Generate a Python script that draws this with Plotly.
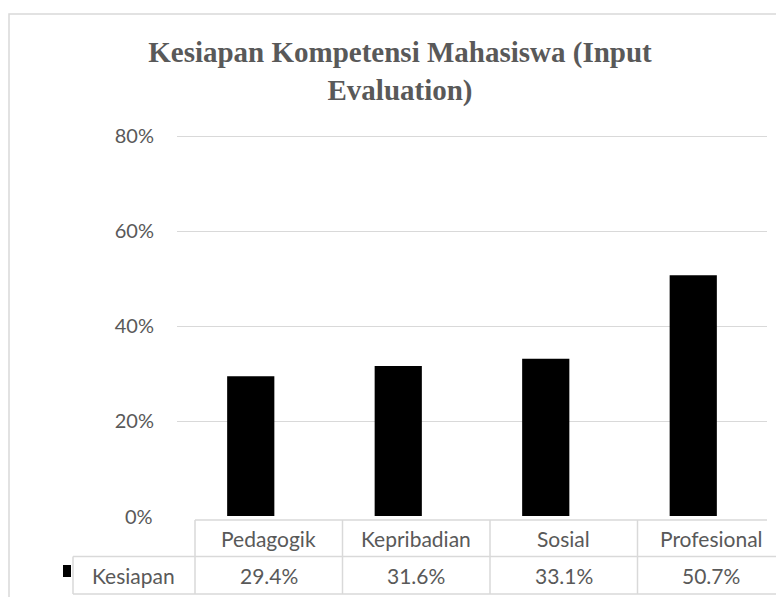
import plotly.graph_objects as go

categories = ["Pedagogik", "Kepribadian", "Sosial", "Profesional"]
series_name = "Kesiapan"
values = [0.294, 0.316, 0.331, 0.507]
value_labels = ["29.4%", "31.6%", "33.1%", "50.7%"]
y_ticks = [0.2, 0.4, 0.6, 0.8]
y_ticktext = ["20%", "40%", "60%", "80%"]
title_text = "Kesiapan Kompetensi Mahasiswa (Input<br>Evaluation)"

W, H = 784, 597
OFF = 8  # page body margin
# plot area in window pixels
PL, PR, PT, PB = 177, 767, 134, 516
Y_MAX = 0.8 * (PB - PT) / (PB - 136)
L, T = PL - OFF, PT - OFF
R, B = W - (PR - OFF), H - (PB - OFF)
pw, ph = PR - PL, PB - PT

def px(x):  # window pixel x -> paper
    return (x - PL) / pw

def py(y):  # window pixel y -> paper
    return (PB - y) / ph

grid = "#d9d9d9"
txt = "#595959"
font = "Lato"

fig = go.Figure()
fig.add_trace(go.Bar(x=list(range(len(categories))), y=values, name=series_name,
                     marker=dict(color="black", line=dict(width=0)), width=0.32,
                     showlegend=False))

fig.update_layout(
    width=W, height=H,
    margin=dict(l=L, r=R, t=T, b=B),
    paper_bgcolor="white", plot_bgcolor="white",
    title=dict(text=title_text, x=(400 - OFF) / W, xanchor="center", y=1 - (62 - OFF) / H,
               yanchor="top",
               font=dict(family="Liberation Serif", size=29, color=txt, weight="bold")),
    xaxis=dict(range=[-0.5, len(categories) - 0.5], showticklabels=False, showgrid=False,
               zeroline=False, showline=False, fixedrange=True),
    yaxis=dict(range=[0, Y_MAX], tickvals=y_ticks, ticktext=y_ticktext, showgrid=True,
               gridcolor=grid, gridwidth=1, zeroline=False, showline=False,
               ticklabelstandoff=22, tickfont=dict(family=font, size=20, color=txt)),
    bargap=0.68,
)

shapes = []
annotations = []
# outer chart border
shapes.append(dict(type="rect", xref="paper", yref="paper", x0=px(9), x1=px(830),
                   y0=py(14), y1=py(650), line=dict(color=grid, width=1.5), layer="below"))
# "0%" axis label
annotations.append(dict(xref="paper", yref="y", x=0, y=0, xanchor="right", yanchor="middle",
                        xshift=-22, text="0%", showarrow=False,
                        font=dict(family=font, size=20, color=txt)))

# data table below the plot
shift = 18
y_top, y_mid, y_bot = py(520), py(556.5), py(594)
n = len(categories)
tfont = dict(family=font, size=21, color=txt)
# horizontal lines
shapes.append(dict(type="line", xref="x", yref="paper", xsizemode="pixel", xanchor=-0.5,
                   x0=shift, x1=shift + pw, y0=y_top, y1=y_top, line=dict(color=grid, width=1.5)))
for yy in (y_mid, y_bot):
    shapes.append(dict(type="line", xref="paper", yref="paper", x0=px(73), x1=px(PR + shift),
                       y0=yy, y1=yy, line=dict(color=grid, width=1.5)))
# vertical lines
for i in range(n + 1):
    shapes.append(dict(type="line", xref="x", yref="paper", xsizemode="pixel", xanchor=i - 0.5,
                       x0=shift, x1=shift, y0=y_top, y1=y_bot, line=dict(color=grid, width=1.5)))
shapes.append(dict(type="line", xref="paper", yref="paper", x0=px(73), x1=px(73),
                   y0=y_mid, y1=y_bot, line=dict(color=grid, width=1.5)))
# legend key
shapes.append(dict(type="rect", xref="paper", yref="paper", x0=px(63), x1=px(71),
                   y0=py(577), y1=py(565), fillcolor="black", line=dict(width=0)))

for i, (c, v) in enumerate(zip(categories, value_labels)):
    annotations.append(dict(xref="x", yref="paper", x=i, xshift=shift, y=(y_top + y_mid) / 2,
                            xanchor="center", yanchor="middle", text=c, showarrow=False,
                            font=tfont))
    annotations.append(dict(xref="x", yref="paper", x=i, xshift=shift, y=(y_mid + y_bot) / 2,
                            xanchor="center", yanchor="middle", text=v, showarrow=False,
                            font=tfont))
annotations.append(dict(xref="paper", yref="paper", x=px(133.5), y=(y_mid + y_bot) / 2,
                        xanchor="center", yanchor="middle", text=series_name, showarrow=False,
                        font=tfont))

fig.update_layout(shapes=shapes, annotations=annotations)
fig.write_html("out.html")
